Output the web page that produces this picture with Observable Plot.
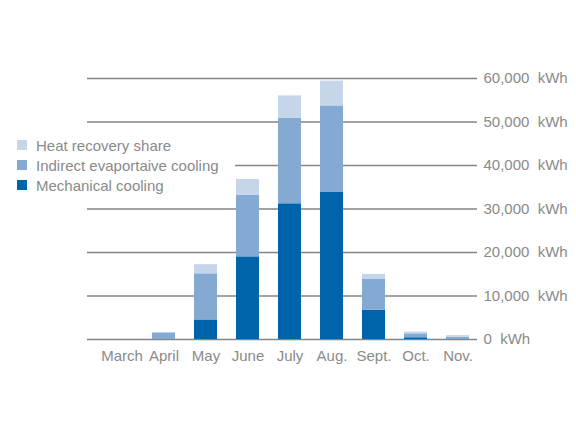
<!DOCTYPE html>
<html>
<head>
<meta charset="utf-8">
<script src="https://cdn.jsdelivr.net/npm/d3@7"></script>
<script src="https://cdn.jsdelivr.net/npm/@observablehq/plot@0.6"></script>
<style>
  html, body { margin: 0; padding: 0; background: #fff; }
  #wrap { position: relative; width: 576px; height: 432px; font-family: "Liberation Sans", Arial, sans-serif; }
  #legend { position: absolute; left: 0; top: 135px; width: 235px; background: #fff; padding: 0; }
  .row { display: flex; align-items: center; height: 20px; font-size: 15px; color: #8a8a8a; }
  .sw { width: 10px; height: 10px; margin-left: 17px; margin-right: 9px; }
</style>
</head>
<body>
<div id="wrap"></div>
<script>
const months = ["March", "April", "May", "June", "July", "Aug.", "Sept.", "Oct.", "Nov."];
const mechanical = [0, 0, 4500, 19000, 31200, 33800, 6700, 400, 100];
const indirect = [0, 1500, 10600, 14200, 19600, 19900, 7100, 900, 400];
const heatRecovery = [0, 0, 2100, 3600, 5200, 5700, 1150, 400, 400];
const seriesNames = ["Mechanical cooling", "Indirect evaportaive cooling", "Heat recovery share"];
const seriesColors = ["#0064aa", "#84a9d2", "#c6d6ea"];
const yTicks = [0, 10000, 20000, 30000, 40000, 50000, 60000];

const seriesValues = [mechanical, indirect, heatRecovery];
const data = [];
months.forEach((m, i) => {
  seriesNames.forEach((s, j) => data.push({month: m, series: s, value: seriesValues[j][i]}));
});

const textColor = "#8a8a8a";
const chart = Plot.plot({
  width: 576,
  height: 432,
  marginLeft: 87,
  marginRight: 99,
  marginTop: 78,
  marginBottom: 93,
  style: {fontFamily: "'Liberation Sans', Arial, sans-serif", fontSize: "15px", color: textColor, background: "white"},
  x: {domain: months, range: [100, 478], paddingInner: 0.46, paddingOuter: 0.23, align: 0.5},
  y: {domain: [0, 60000]},
  color: {domain: seriesNames, range: seriesColors},
  marks: [
    Plot.gridY(yTicks, {stroke: "#858585", strokeWidth: 1.6, strokeOpacity: 1}),
    Plot.barY(data, {x: "month", y: "value", fill: "series", order: seriesNames}),
    Plot.axisY(yTicks, {anchor: "right", tickSize: 0, tickPadding: 6, textAnchor: "start", fill: textColor, fontSize: 15,
      tickFormat: d => d3.format(",")(d) + "\u00a0\u00a0kWh", label: null}),
    Plot.axisX({tickSize: 0, tickPadding: 11, fill: textColor, fontSize: 15, label: null})
  ]
});
const wrap = document.getElementById("wrap");
wrap.appendChild(chart);

const legend = document.createElement("div");
legend.id = "legend";
const legendOrder = [2, 1, 0];
legendOrder.forEach(j => {
  const row = document.createElement("div");
  row.className = "row";
  const sw = document.createElement("span");
  sw.className = "sw";
  sw.style.background = seriesColors[j];
  const t = document.createElement("span");
  t.textContent = seriesNames[j];
  row.appendChild(sw);
  row.appendChild(t);
  legend.appendChild(row);
});
wrap.appendChild(legend);
</script>
</body>
</html>
